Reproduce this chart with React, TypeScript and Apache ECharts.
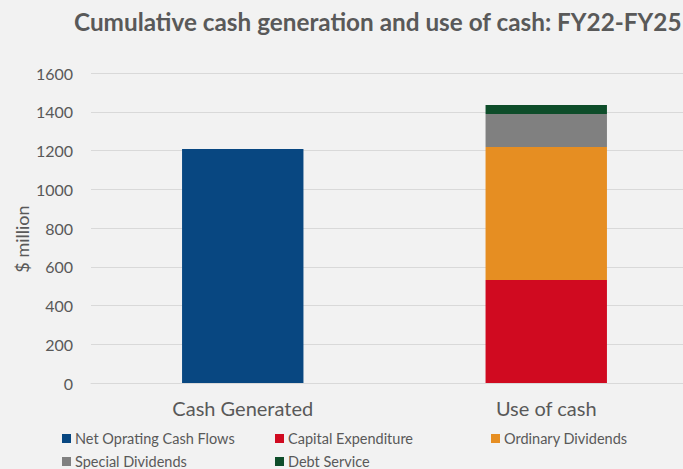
import React, { useEffect, useRef } from "react";
import * as echarts from "echarts";

const categories = ["Cash Generated", "Use of cash"];
const seriesNames = [
  "Net Oprating Cash Flows",
  "Capital Expenditure",
  "Ordinary Dividends",
  "Special Dividends",
  "Debt Service",
];
const netOperatingCashFlows = [1208, "-"];
const capitalExpenditure = ["-", 532];
const ordinaryDividends = ["-", 686];
const specialDividends = ["-", 170];
const debtService = ["-", 47];
const seriesColors = ["#084781", "#d00a20", "#e68e22", "#808080", "#0e4d2a"];
const yAxisTitle = "$ million";

const FONT = "Lato, 'Open Sans', sans-serif";
const TEXT = "#595959";

export default function App() {
  const ref = useRef<HTMLDivElement>(null);
  useEffect(() => {
    if (!ref.current) return;
    document.documentElement.style.overflow = "hidden";
    document.body.style.overflow = "hidden";
    const chart = echarts.init(ref.current, null, { renderer: "svg" });
    const values = [
      netOperatingCashFlows,
      capitalExpenditure,
      ordinaryDividends,
      specialDividends,
      debtService,
    ];
    const legendPos = [
      { left: 62, top: 431 },
      { left: 275, top: 431 },
      { left: 491, top: 431 },
      { left: 62, top: 454 },
      { left: 275, top: 454 },
    ];
    chart.setOption({
      animation: false,
      backgroundColor: "#f2f2f2",
      textStyle: { fontFamily: FONT },
      title: {
        text: "Cumulative cash generation and use of cash: FY22-FY25",
        left: 69,
        top: 4,
        textStyle: { fontFamily: FONT, fontSize: 24.3, fontWeight: "bold", color: TEXT },
      },
      graphic: [
        {
          type: "text",
          x: 22,
          y: 239,
          rotation: Math.PI / 2,
          style: {
            text: yAxisTitle,
            fontFamily: FONT,
            fontSize: 18,
            fill: TEXT,
            align: "center",
            verticalAlign: "middle",
          },
        },
      ],
      legend: seriesNames.map((n, i) => ({
        data: [n],
        left: legendPos[i].left,
        top: legendPos[i].top,
        icon: "rect",
        itemWidth: 9,
        itemHeight: 9,
        itemGap: 4,
        padding: 0,
        selectedMode: false,
        textStyle: { fontFamily: FONT, fontSize: 14.5, color: TEXT, padding: [0, 0, 0, -1] },
      })),
      grid: { left: 91, width: 607, top: 73, bottom: 86, containLabel: false },
      xAxis: {
        type: "category",
        data: categories,
        axisLine: { lineStyle: { color: "#d9d9d9", width: 1 } },
        axisTick: { show: false },
        axisLabel: { fontFamily: FONT, fontSize: 20, color: TEXT, margin: 15 },
      },
      yAxis: {
        type: "value",
        min: 0,
        max: 1600,
        interval: 200,
        axisLine: { show: false },
        axisTick: { show: false },
        splitLine: { lineStyle: { color: "#d9d9d9", width: 1 } },
        axisLabel: {
          fontFamily: FONT,
          fontSize: 16,
          color: TEXT,
          margin: 18,
          formatter: (v: number) => String(v),
        },
      },
      series: seriesNames.map((n, i) => ({
        name: n,
        type: "bar",
        stack: "total",
        barWidth: "40%",
        data: values[i],
        itemStyle: { color: seriesColors[i] },
      })),
    });
    return () => chart.dispose();
  }, []);
  return (
    <div
      ref={ref}
      style={{ position: "absolute", left: 0, top: 0, width: 700, height: 469 }}
    />
  );
}
